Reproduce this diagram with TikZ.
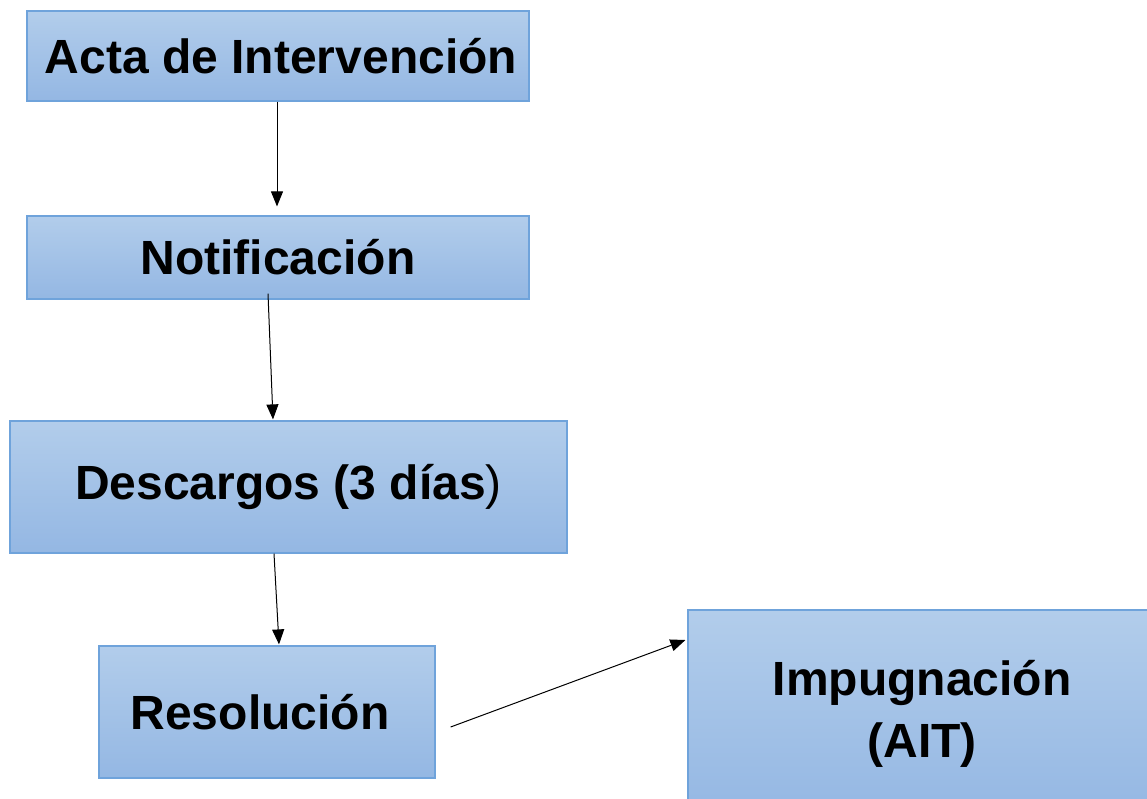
\documentclass[tikz,border=0pt]{standalone}
\usepackage{fontspec}
\setmainfont{Liberation Sans}
\usetikzlibrary{arrows.meta,calc}
\definecolor{boxtop}{HTML}{B2CDEB}
\definecolor{boxbot}{HTML}{94B7E3}
\definecolor{boxline}{HTML}{6FA3DB}
\tikzset{
  stepbox/.style={rectangle, draw=boxline, line width=1.2pt, top color=boxtop, bottom color=boxbot,
    inner sep=0pt, align=center, font=\fontsize{48}{62}\selectfont\bfseries},
  flow/.style={draw=black, line width=1pt, -{Triangle[length=15pt,width=12pt]}}
}
\begin{document}
\begin{tikzpicture}[x=1pt,y=-1pt]
\useasboundingbox (0,0) rectangle (1147,798);
\clip (0,0) rectangle (1147,798);
\fill[white] (0,0) rectangle (1147,798);
\node[stepbox, minimum width=502pt, minimum height=90pt] (acta) at (278,56) {\hspace*{6pt}Acta de Intervención};
\node[stepbox, minimum width=502pt, minimum height=83pt] (notif) at (278,257.5) {\raisebox{-2pt}{Notificación}};
\node[stepbox, minimum width=557pt, minimum height=132pt] (desc) at (288.5,487) {Descargos (3 días\textmd{)}};
\node[stepbox, minimum width=336pt, minimum height=132pt] (res) at (267,712) {\hspace*{-14pt}Resolución};
\node[stepbox, minimum width=468pt, minimum height=208pt] (imp) at (922,714) {Impugnación\\(AIT)};
\draw[flow] ($(acta.south)+(-1,0)$) -- ($(notif.north)+(-1,-9)$);
\draw[flow] ($(notif.south)+(-10,-6)$) -- ($(desc.north)+(-15.5,-1)$);
\draw[flow] ($(desc.south)+(-14.5,0)$) -- ($(res.north)+(12,-1)$);
\draw[flow] ($(res.east)+(15,15)$) -- ($(imp.west)+(-2,-74)$);
\end{tikzpicture}
\end{document}
